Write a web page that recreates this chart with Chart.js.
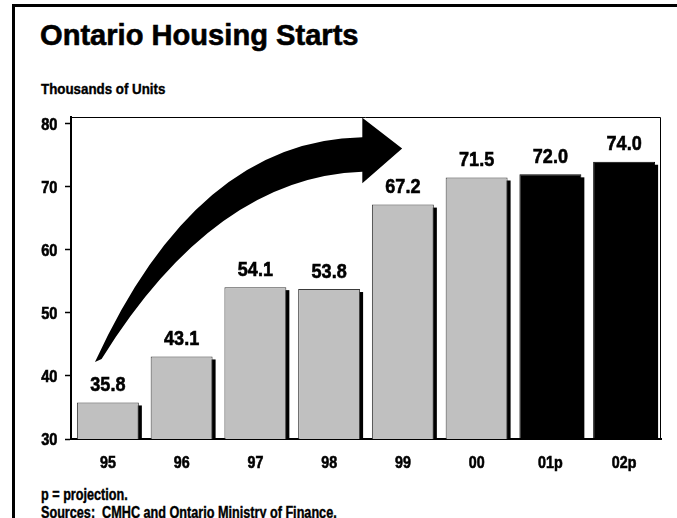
<!DOCTYPE html>
<html>
<head>
<meta charset="utf-8">
<script src="https://cdn.jsdelivr.net/npm/chart.js@4/dist/chart.umd.min.js"></script>
<style>
  html, body { margin: 0; padding: 0; background: #fff; }
  #wrap { position: relative; width: 677px; height: 518px; overflow: hidden; }
  #frame { position: absolute; left: 12px; top: 4px; width: 700px; height: 600px;
           border-left: 3px solid #000; border-top: 3px solid #000; }
  canvas { position: absolute; left: 0; top: 0; }
  .t { position: absolute; font-family: 'Liberation Sans', Arial, sans-serif;
       font-weight: bold; color: #000; white-space: pre; line-height: 1;
       transform-origin: 0 0; -webkit-text-stroke: 0.4px #000; }
</style>
</head>
<body>
<div id="wrap">
  <div id="frame"></div>
  <div class="t" style="left:40px; top:19.6px; font-size:30px; transform:scaleX(0.97); -webkit-text-stroke:0.6px #000;">Ontario Housing Starts</div>
  <div class="t" style="left:41px; top:81px; font-size:15.5px; transform:scaleX(0.86);">Thousands of Units</div>
  <div class="t" style="left:41px; top:486.5px; font-size:16px; transform:scaleX(0.79);">p = projection.</div>
  <div class="t" style="left:41px; top:504.5px; font-size:16px; transform:scaleX(0.79);">Sources:  CMHC and Ontario Ministry of Finance.</div>
  <canvas id="c" width="677" height="518"></canvas>
</div>
<script>
// Housing starts, thousands of units (p = projection)
const years = ['95', '96', '97', '98', '99', '00', '01p', '02p'];
const starts = [35.8, 43.1, 54.1, 53.8, 67.2, 71.5, 72.0, 74.0];
const projected = [false, false, false, false, false, false, true, true];
const yTicks = [30, 40, 50, 60, 70, 80];

const FONT = "'Liberation Sans', Arial, sans-serif";

// Condensed heavy text: bold face squeezed horizontally with a light outline
function narrowText(ctx, text, x, y, size, squeeze, align) {
  ctx.save();
  ctx.font = 'bold ' + size + 'px ' + FONT;
  ctx.textAlign = align;
  ctx.textBaseline = 'alphabetic';
  ctx.fillStyle = '#000';
  ctx.strokeStyle = '#000';
  ctx.lineWidth = 0.6;
  ctx.translate(x, y);
  ctx.scale(squeeze, 1);
  ctx.fillText(text, 0, 0);
  ctx.strokeText(text, 0, 0);
  ctx.restore();
}

// Drop shadow behind each bar, offset down and to the right
const barShadow = {
  id: 'barShadow',
  beforeDatasetsDraw(chart) {
    const ctx = chart.ctx;
    const bottom = chart.chartArea.bottom;
    ctx.save();
    ctx.fillStyle = '#000';
    chart.getDatasetMeta(0).data.forEach(bar => {
      const top = bar.y + 3;
      ctx.fillRect(bar.x - bar.width / 2 + 3, top, bar.width, bottom - top);
    });
    ctx.restore();
  }
};

// Value above each bar
const barValues = {
  id: 'barValues',
  afterDatasetsDraw(chart) {
    const ctx = chart.ctx;
    chart.getDatasetMeta(0).data.forEach((bar, i) => {
      narrowText(ctx, starts[i].toFixed(1), bar.x, bar.y - 11.5, 21, 0.86, 'center');
    });
  }
};

// Axis labels in the condensed face
const axisLabels = {
  id: 'axisLabels',
  afterDraw(chart) {
    const { ctx, scales: { x, y } } = chart;
    yTicks.forEach(v => {
      narrowText(ctx, String(v), 57.5, y.getPixelForValue(v) + 6, 17, 0.86, 'right');
    });
    years.forEach((lab, i) => {
      narrowText(ctx, lab, x.getPixelForValue(i), 468, 17, 0.84, 'center');
    });
  }
};

// Thin frame along the top and right of the plot area
const plotFrame = {
  id: 'plotFrame',
  afterDatasetsDraw(chart) {
    const { ctx, chartArea: a } = chart;
    ctx.save();
    ctx.strokeStyle = '#000';
    ctx.lineWidth = 1;
    ctx.beginPath();
    ctx.moveTo(a.left, a.top + 0.5);
    ctx.lineTo(a.right - 0.5, a.top + 0.5);
    ctx.lineTo(a.right - 0.5, a.bottom);
    ctx.stroke();
    ctx.restore();
  }
};

// Big curved growth arrow, laid out in category/value units
const growthArrow = {
  id: 'growthArrow',
  afterDatasetsDraw(chart) {
    const { ctx, scales: { x, y } } = chart;
    const P = (i, v) => [x.getPixelForValue(i), y.getPixelForValue(v)];
    const outerStart = P(-0.175, 42.2), outerCtrl = P(1.2, 77.5), outerEnd = P(3.45, 77.9);
    const headTop = P(3.45, 81.0), tip = P(3.99, 76.1), headBottom = P(3.45, 70.6);
    const innerEnd = P(3.45, 72.4), innerCtrl = P(1.45, 71.6), innerStart = P(-0.085, 42.7);
    ctx.save();
    ctx.fillStyle = '#000';
    ctx.beginPath();
    ctx.moveTo(...outerStart);
    ctx.quadraticCurveTo(...outerCtrl, ...outerEnd);
    ctx.lineTo(...headTop);
    ctx.lineTo(...tip);
    ctx.lineTo(...headBottom);
    ctx.lineTo(...innerEnd);
    ctx.quadraticCurveTo(...innerCtrl, ...innerStart);
    ctx.closePath();
    ctx.fill();
    ctx.restore();
  }
};

new Chart(document.getElementById('c'), {
  type: 'bar',
  data: {
    labels: years,
    datasets: [{
      data: starts,
      backgroundColor: projected.map(p => p ? '#000000' : '#c0c0c0'),
      borderColor: projected.map(p => p ? '#000000' : '#3a3a3a'),
      borderWidth: 1,
      categoryPercentage: 1,
      barPercentage: 0.84
    }]
  },
  options: {
    responsive: false,
    animation: false,
    layout: { padding: { left: 0, top: 117, right: 16, bottom: 0 } },
    plugins: { legend: { display: false }, tooltip: { enabled: false } },
    scales: {
      x: {
        offset: true,
        grid: { display: false },
        border: { display: true, color: '#000', width: 2 },
        ticks: { display: false },
        afterFit(s) { s.height = 79; }
      },
      y: {
        min: 30,
        max: 81.1,
        afterBuildTicks(s) { s.ticks = yTicks.map(v => ({ value: v })); },
        grid: { drawOnChartArea: false, drawTicks: true, tickLength: 6, tickColor: '#000', tickWidth: 1.5 },
        border: { display: true, color: '#000', width: 2 },
        ticks: { display: false },
        afterFit(s) { s.width = 71; }
      }
    }
  },
  plugins: [barShadow, barValues, plotFrame, growthArrow, axisLabels]
});
</script>
</body>
</html>
